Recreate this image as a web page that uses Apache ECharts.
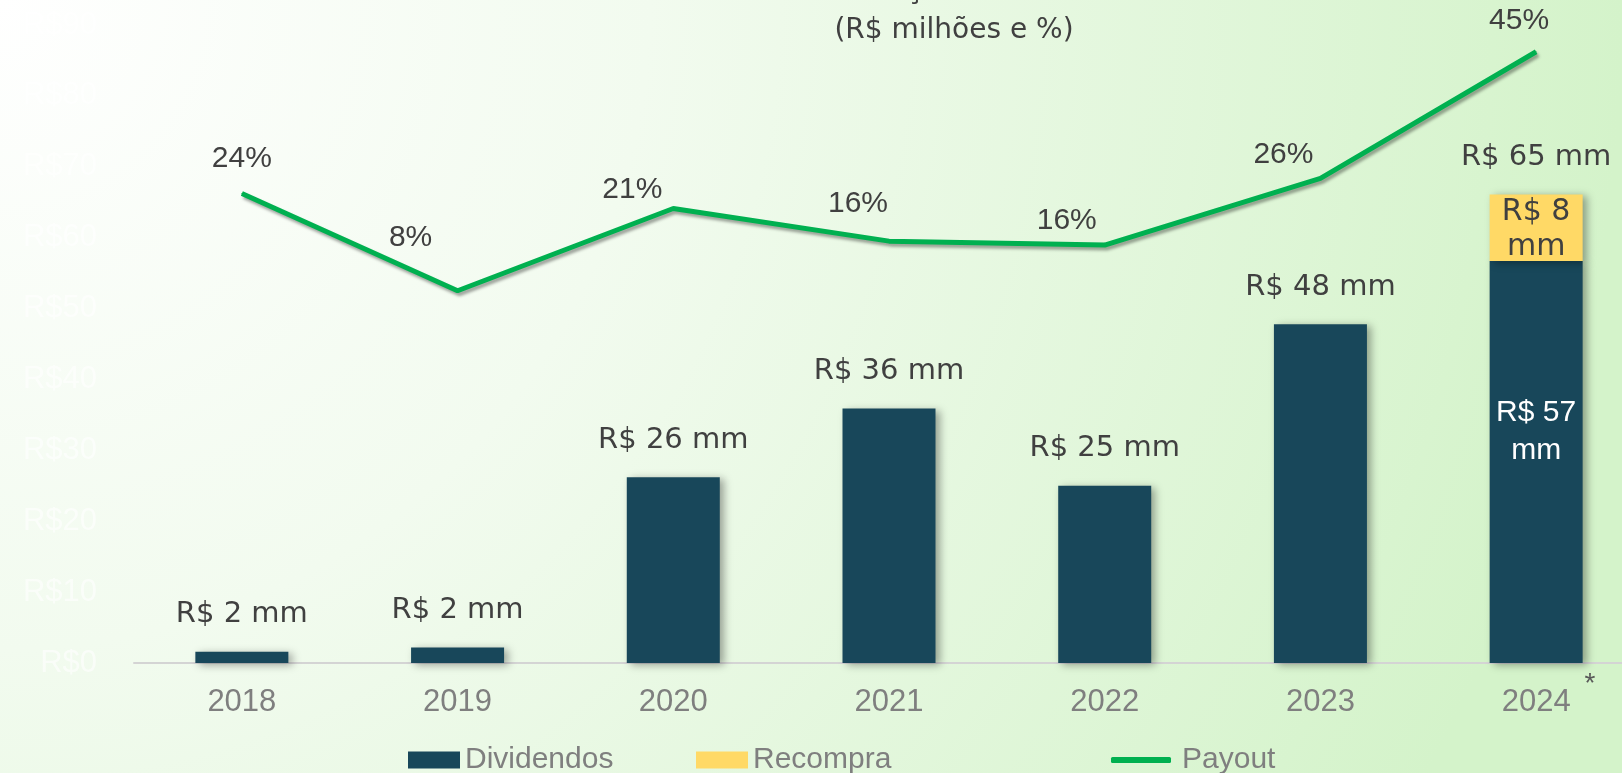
<!DOCTYPE html>
<html>
<head>
<meta charset="utf-8">
<script src="https://cdn.jsdelivr.net/npm/echarts@6/dist/echarts.min.js"></script>
<style>
  html, body { margin: 0; padding: 0; }
  #chart { width: 1622px; height: 773px; }
</style>
</head>
<body>
<div id="chart"></div>
<script>
// dados
var years = ['2018', '2019', '2020', '2021', '2022', '2023', '2024'];
var dividendos = [1.6, 2.2, 26.2, 35.9, 25.0, 47.8, 56.7];
var recompra = ['-', '-', '-', '-', '-', '-', 9.4];
var total = ['-', '-', '-', '-', '-', '-', 0];
var payout = [23.3, 8.4, 21.0, 16.0, 15.4, 25.6, 45.0];

var dividendosLabels = ['R$ 2 mm', 'R$ 2 mm', 'R$ 26 mm', 'R$ 36 mm', 'R$ 25 mm', 'R$ 48 mm', 'R$ 57\nmm'];
var recompraLabels = ['', '', '', '', '', '', 'R$ 8\nmm'];
var totalLabels = ['', '', '', '', '', '', 'R$ 65 mm'];
var payoutLabels = ['24%', '8%', '21%', '16%', '16%', '26%', '45%'];
var yTicks = ['R$0', 'R$10', 'R$20', 'R$30', 'R$40', 'R$50', 'R$60', 'R$70', 'R$80', 'R$90'];

// deslocamento dos rótulos de payout (px)
var payoutOffsets = [[0, -35], [-47, -53], [-41, -19], [-31, -37], [-38, -24], [-37, -24], [-17, -31]];

var chart = echarts.init(document.getElementById('chart'));

var barShadow = {
  shadowBlur: 8,
  shadowColor: 'rgba(0,0,0,0.35)',
  shadowOffsetX: 4,
  shadowOffsetY: 2
};

var option = {
  animation: false,
  backgroundColor: {
    type: 'radial', x: 0, y: 0, r: 2.1,
    colorStops: [
      {offset: 0, color: '#ffffff'},
      {offset: 0.4, color: '#f2fbef'},
      {offset: 1, color: '#d4f3ca'}
    ]
  },
  graphic: [
    {
      type: 'text', x: 965, y: 5,
      style: {
        text: 'Remuneração aos Acionistas',
        font: '29px "DejaVu Sans"', fill: '#404040',
        textAlign: 'center', textVerticalAlign: 'bottom'
      }
    },
    {
      type: 'text', x: 954, y: 31,
      style: {
        text: '(R$ milhões e %)',
        font: '28px "DejaVu Sans"', fill: '#404040',
        textAlign: 'center', textVerticalAlign: 'middle'
      }
    },
    {
      type: 'text', x: 1590, y: 684,
      style: {
        text: '*', font: '28px "Liberation Sans"', fill: '#595959',
        textAlign: 'center', textVerticalAlign: 'middle'
      }
    }
  ],
  grid: {
    left: 134,
    top: 25,
    width: 1510,
    height: 638,
    outerBoundsMode: 'none'
  },
  legend: [
    {
      left: 403, top: 740, icon: 'rect', itemWidth: 52, itemHeight: 17,
      data: ['Dividendos'],
      textStyle: {color: '#7f7f7f', fontSize: 30, fontFamily: 'Liberation Sans'}
    },
    {
      left: 691, top: 740, icon: 'rect', itemWidth: 52, itemHeight: 17,
      data: ['Recompra'],
      textStyle: {color: '#7f7f7f', fontSize: 30, fontFamily: 'Liberation Sans'}
    },
    {
      left: 1106, top: 740, icon: 'roundRect', itemWidth: 60, itemHeight: 6,
      data: ['Payout'],
      textStyle: {color: '#7f7f7f', fontSize: 30, fontFamily: 'Liberation Sans', padding: [0, 0, 0, 6]}
    }
  ],
  xAxis: {
    type: 'category',
    data: years,
    axisTick: {show: false},
    axisLine: {lineStyle: {color: '#d4d4d4', width: 2}},
    axisLabel: {
      color: '#7f7f7f', fontSize: 31, fontFamily: 'Liberation Sans', margin: 24
    }
  },
  yAxis: [
    {
      type: 'value', min: 0, max: 90, interval: 10,
      splitLine: {show: false},
      axisLabel: {
        color: 'rgba(255,255,255,0.6)', fontSize: 31, fontFamily: 'Liberation Sans', margin: 37,
        formatter: function (v) { return yTicks[Math.round(v / 10)]; }
      }
    },
    {
      type: 'value', min: -48.6, max: 49.1, show: false,
      splitLine: {show: false}
    }
  ],
  series: [
    {
      name: 'Dividendos',
      type: 'bar',
      stack: 'a',
      barWidth: 93,
      itemStyle: Object.assign({color: '#18475a'}, barShadow),
      data: dividendos.map(function (v, i) {
        var item = {value: v};
        if (i === dividendos.length - 1) {
          item.label = {
            show: true, position: ['50%', '42.4%'], align: 'center', verticalAlign: 'middle',
            color: '#ffffff', fontSize: 30, fontFamily: 'Liberation Sans', lineHeight: 38
          };
        }
        return item;
      }),
      label: {
        show: true, position: 'top', distance: 21,
        color: '#404040', fontSize: 29, fontFamily: 'DejaVu Sans', lineHeight: 32,
        formatter: function (p) { return dividendosLabels[p.dataIndex]; }
      }
    },
    {
      name: 'Recompra',
      type: 'bar',
      stack: 'a',
      barWidth: 93,
      itemStyle: Object.assign({color: '#ffd966'}, barShadow),
      data: recompra,
      label: {
        show: true, position: 'inside', offset: [0, 2],
        color: '#404040', fontSize: 30, fontFamily: 'DejaVu Sans', lineHeight: 35,
        formatter: function (p) { return recompraLabels[p.dataIndex]; }
      }
    },
    {
      name: 'Total',
      type: 'bar',
      stack: 'a',
      barWidth: 93,
      itemStyle: {color: 'rgba(0,0,0,0)'},
      data: total,
      label: {
        show: true, position: 'top', distance: 21,
        color: '#404040', fontSize: 29, fontFamily: 'DejaVu Sans', lineHeight: 32,
        formatter: function (p) { return totalLabels[p.dataIndex]; }
      }
    },
    {
      name: 'Payout',
      type: 'line',
      yAxisIndex: 1,
      symbol: 'circle',
      symbolSize: 1,
      itemStyle: {color: '#00b050'},
      lineStyle: {
        color: '#00b050', width: 5,
        shadowColor: 'rgba(0,0,0,0.35)', shadowBlur: 3, shadowOffsetX: 2, shadowOffsetY: 3
      },
      data: payout.map(function (v, i) {
        return {value: v, label: {offset: payoutOffsets[i]}};
      }),
      label: {
        show: true, position: 'inside',
        color: '#404040', fontSize: 30, fontFamily: 'Liberation Sans',
        formatter: function (p) { return payoutLabels[p.dataIndex]; }
      },
      z: 5
    }
  ]
};

chart.setOption(option);
</script>
</body>
</html>
